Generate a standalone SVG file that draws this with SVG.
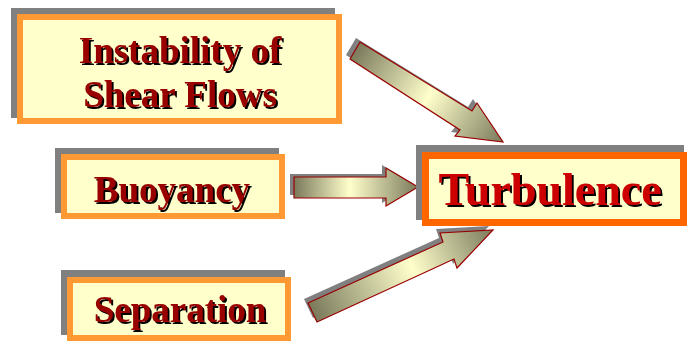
<svg xmlns="http://www.w3.org/2000/svg" width="687" height="344" viewBox="0 0 687 344">
<style>
.sh{fill:#808080;stroke:none}
.box{fill:#FFFFCC;stroke:#FF9933;stroke-width:6}
.boxt{fill:#FFFFCC;stroke:#FF6600;stroke-width:7}
.lbl{font-family:"Liberation Serif","Times New Roman",serif;font-weight:bold;font-size:37px;text-anchor:middle;filter:url(#ts)}
.big{font-size:46px}
.tx{fill:#990000}
.txr{fill:#CC0000}
.arr{stroke:#990000;stroke-width:1.2;stroke-linejoin:miter}
</style>
<defs>
<filter id="ts" x="-10%" y="-20%" width="120%" height="150%">
<feOffset in="SourceAlpha" dx="2" dy="2" result="o"/>
<feMerge><feMergeNode in="o"/><feMergeNode in="SourceGraphic"/></feMerge>
</filter>
<linearGradient id="g1" gradientUnits="userSpaceOnUse" x1="355" y1="50" x2="503" y2="142">
<stop offset="0" stop-color="#7A7A5C"/><stop offset="0.5" stop-color="#FFFFCC"/><stop offset="1" stop-color="#7A7A5C"/>
</linearGradient>
<linearGradient id="g2" gradientUnits="userSpaceOnUse" x1="294" y1="0" x2="418" y2="0">
<stop offset="0" stop-color="#7A7A5C"/><stop offset="0.45" stop-color="#FFFFCC"/><stop offset="1" stop-color="#7A7A5C"/>
</linearGradient>
<linearGradient id="g3" gradientUnits="userSpaceOnUse" x1="312" y1="312" x2="493" y2="230">
<stop offset="0" stop-color="#7A7A5C"/><stop offset="0.55" stop-color="#FFFFCC"/><stop offset="1" stop-color="#7A7A5C"/>
</linearGradient>
</defs>

<g id="connectors">
<g id="arrow-instability">
<polygon class="sh" transform="translate(-4,-4)" points="360,42 472,111 477,103 503,142 455,136 460,130 350,59"/>
<polygon class="arr" fill="url(#g1)" points="360,42 472,111 477,103 503,142 455,136 460,130 350,59"/>
</g>
<g id="arrow-buoyancy">
<polygon class="sh" transform="translate(-4,-3)" points="294,177 386,177 386,168 418,187 386,206 386,198 294,198"/>
<polygon class="arr" fill="url(#g2)" points="294,177 386,177 386,168 418,187 386,206 386,198 294,198"/>
</g>
<g id="arrow-separation">
<polygon class="sh" transform="translate(-4,-4)" points="308,303 443,242 440,233 493,230 457,268 454,259 317,322"/>
<polygon class="arr" fill="url(#g3)" points="308,303 443,242 440,233 493,230 457,268 454,259 317,322"/>
</g>
</g>

<g id="node-instability">
<rect class="sh" x="11" y="8" width="324" height="110"/>
<rect class="box" x="20" y="17" width="319" height="104"/>
<text class="lbl tx" x="180" y="63">Instability of</text>
<text class="lbl tx" x="180" y="107">Shear Flows</text>
</g>

<g id="node-buoyancy">
<rect class="sh" x="55" y="148" width="224" height="65"/>
<rect class="box" x="64" y="157" width="218" height="59"/>
<text class="lbl tx" x="172" y="202">Buoyancy</text>
</g>

<g id="node-separation">
<rect class="sh" x="61" y="270" width="224" height="65"/>
<rect class="box" x="70" y="280" width="218" height="58"/>
<text class="lbl tx" x="180" y="322">Separation</text>
</g>

<g id="node-turbulence">
<rect class="sh" x="416" y="145" width="268" height="75"/>
<rect class="boxt" x="425.5" y="155.5" width="258" height="67"/>
<text class="lbl big txr" x="550" y="205">Turbulence</text>
</g>
</svg>
